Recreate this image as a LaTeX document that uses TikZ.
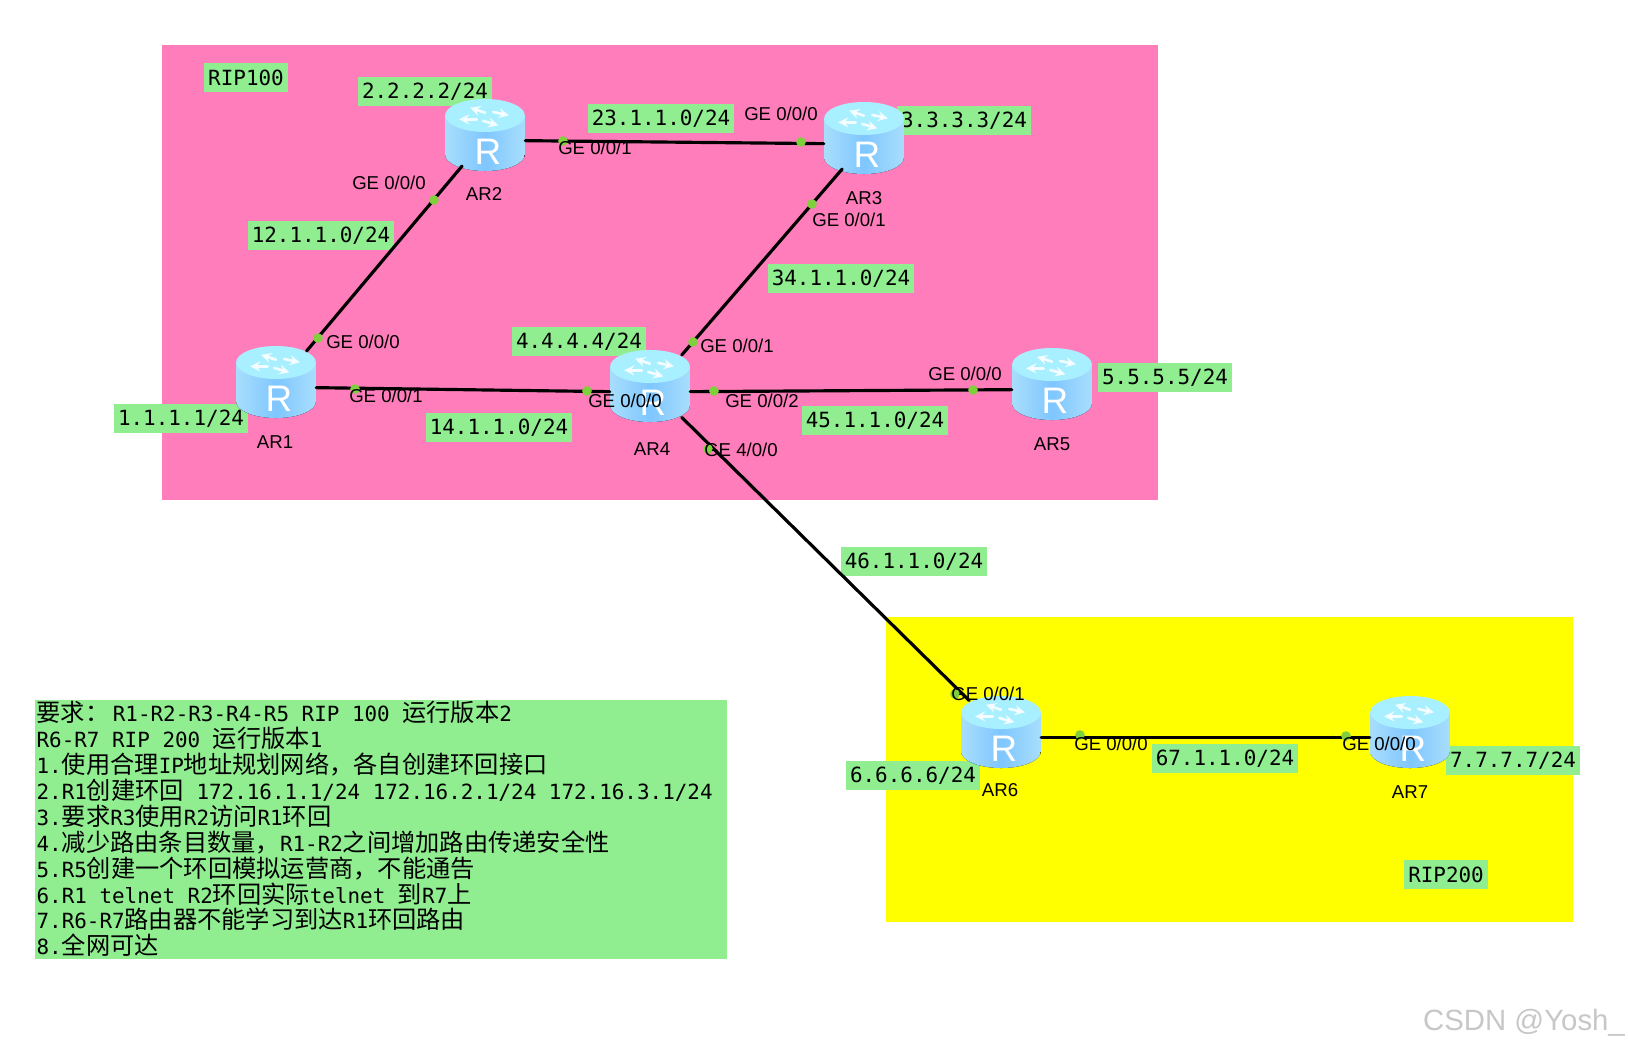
\documentclass[tikz,border=0pt]{standalone}
\usepackage{fontspec}
\setmainfont{Liberation Sans}
\setmonofont{DejaVu Sans Mono}
\newfontfamily\cjk{Noto Sans CJK SC}
\newcommand{\zh}[1]{{\cjk\fontsize{13.8}{14}\selectfont #1}}
\definecolor{ripPink}{HTML}{FF7DBB}
\definecolor{ripYellow}{HTML}{FFFF00}
\definecolor{noteGreen}{HTML}{90EE90}
\definecolor{portGreen}{HTML}{7FD03C}
\definecolor{bodyEdge}{HTML}{A8DEFC}
\definecolor{bodyMid}{HTML}{7FC6FF}
\definecolor{topFill}{HTML}{A8F0FF}
\tikzset{
 addr/.style={fill=noteGreen,font=\ttfamily\fontsize{11.9}{14}\selectfont,inner xsep=2.2pt,inner ysep=0pt,minimum height=16.8pt,yshift=-0.4pt},
 port/.style={font=\fontsize{10.6}{12}\selectfont,inner sep=0pt},
 devname/.style={font=\fontsize{10.6}{12}\selectfont,inner sep=0pt},
 portdot/.style={circle,fill=portGreen,inner sep=0pt,minimum size=5.5pt},
 link/.style={line width=1.8pt,black},
 slantlink/.style={link,shorten <=-4pt,shorten >=-4pt},
 glyph/.style={white,opacity=.85,line width=1.5pt,->,>=stealth},
 router/.style={rectangle,minimum width=45.4pt,minimum height=41pt,inner sep=0pt,
  path picture={
   \fill[left color=bodyEdge,right color=bodyEdge,middle color=bodyMid] (-22.7pt,11.1pt) -- (-22.7pt,-11.1pt)
    arc[start angle=180,end angle=360,x radius=22.7pt,y radius=9.4pt] -- (22.7pt,11.1pt) -- cycle;
   \fill[topFill] (0pt,11.1pt) ellipse (22.7pt and 9.4pt);
   \draw[glyph] (0pt,12.7pt) -- (-8.5pt,15.5pt);
   \draw[glyph] (4.7pt,13.1pt) -- (13.6pt,11.2pt);
   \draw[glyph] (-4.7pt,8.9pt) -- (-14.7pt,8.9pt);
   \draw[glyph] (-1pt,8pt) -- (7.6pt,5.5pt);
   \node[white,font=\fontsize{21}{21}\selectfont,inner sep=0pt] at (1.7pt,-9.6pt) {R};
  }},
}
\begin{document}
\begin{tikzpicture}[x=0.02cm,y=-0.02cm,line cap=round,line join=round]
 \useasboundingbox (0,0) rectangle (1628,1048);
 \fill[ripPink] (162,45) rectangle (1158,500);
 \fill[ripYellow] (886,617) rectangle (1573,922);
 \node[addr] (rip100) at (246,77) {RIP100};
 \node[addr] (rip200) at (1446,874) {RIP200};
 \node[addr] (lo2) at (425,91) {2.2.2.2/24};
 \node[addr] (lo3) at (964,120) {3.3.3.3/24};
 \node[addr] (lo4) at (579,341) {4.4.4.4/24};
 \node[addr] (lo1) at (181,418) {1.1.1.1/24};
 \node[addr] (lo5) at (1165,377) {5.5.5.5/24};
 \node[addr] (lo6) at (913,775) {6.6.6.6/24};
 \node[addr] (lo7) at (1513,760) {7.7.7.7/24};
 \node[addr] (net12) at (321,235) {12.1.1.0/24};
 \node[addr] (net23) at (661,118) {23.1.1.0/24};
 \node[addr] (net34) at (841,278) {34.1.1.0/24};
 \node[addr] (net14) at (499,427) {14.1.1.0/24};
 \node[addr] (net45) at (875,420) {45.1.1.0/24};
 \node[addr] (net46) at (914,561) {46.1.1.0/24};
 \node[addr] (net67) at (1225,758) {67.1.1.0/24};
 % routers
 \node[router] (ar1) at (276,382) {};
 \node[router] (ar2) at (485,135) {};
 \node[router] (ar3) at (864,138) {};
 \node[router] (ar4) at (650,386) {};
 \node[router] (ar5) at (1052,384) {};
 \node[router] (ar6) at (1001,732) {};
 \node[router] (ar7) at (1410,732) {};
 \node[devname] (ar1name) at (275,442) {AR1};
 \node[devname] (ar2name) at (484,194) {AR2};
 \node[devname] (ar3name) at (864,198) {AR3};
 \node[devname] (ar4name) at (652,449) {AR4};
 \node[devname] (ar5name) at (1052,444) {AR5};
 \node[devname] (ar6name) at (1000,790) {AR6};
 \node[devname] (ar7name) at (1410,792) {AR7};
 % links
 \draw[slantlink] (ar1.46) -- (ar2.233);
 \draw[link] (ar2.-8) -- (ar3.188);
 \draw[slantlink] (ar3.234) -- (ar4.45);
 \draw[link] (ar1.-8) -- (ar4.188);
 \draw[link] (ar4.-8) -- (ar5.188);
 \draw[slantlink] (ar4) -- (ar6);
 \draw[link] (ar6.-8) -- (ar7.188);
 % ports
 \node[portdot] (d1) at (434,200) {};
 \node[portdot] (d2) at (318,338) {};
 \node[portdot] (d3) at (563,141) {};
 \node[portdot] (d4) at (801,142) {};
 \node[portdot] (d5) at (812,204) {};
 \node[portdot] (d6) at (693,342) {};
 \node[portdot] (d7) at (355,389) {};
 \node[portdot] (d8) at (587,391) {};
 \node[portdot] (d9) at (714,391) {};
 \node[portdot] (d10) at (973,390) {};
 \node[portdot] (d11) at (708,449) {};
 \node[portdot] (d12) at (955,694) {};
 \node[portdot] (d13) at (1080,735) {};
 \node[portdot] (d14) at (1346,736) {};
 \node[port] (p1) at (389,183) {GE 0/0/0};
 \node[port] (p2) at (363,342) {GE 0/0/0};
 \node[port] (p3) at (595,148) {GE 0/0/1};
 \node[port] (p4) at (781,114) {GE 0/0/0};
 \node[port] (p5) at (849,220) {GE 0/0/1};
 \node[port] (p6) at (737,346) {GE 0/0/1};
 \node[port] (p7) at (386,396) {GE 0/0/1};
 \node[port] (p8) at (625,401) {GE 0/0/0};
 \node[port] (p9) at (762,401) {GE 0/0/2};
 \node[port] (p10) at (965,374) {GE 0/0/0};
 \node[port] (p11) at (741,450) {GE 4/0/0};
 \node[port] (p12) at (988,694) {GE 0/0/1};
 \node[port] (p13) at (1111,744) {GE 0/0/0};
 \node[port] (p14) at (1379,744) {GE 0/0/0};
 % notes
 \node[fill=noteGreen,minimum width=393.4pt,minimum height=147.4pt,text width=392pt,inner xsep=0.7pt,inner ysep=0pt,align=flush left,
  font=\ttfamily\fontsize{11.9}{14.74}\selectfont] (notes) at (381,829) {%
  \zh{要求：}\hspace{2pt}R1-R2-R3-R4-R5 RIP 100 \zh{运行版本}2\\
  R6-R7 RIP 200 \zh{运行版本}1\\
  1.\zh{使用合理}IP\zh{地址规划网络，各自创建环回接口}\\
  2.R1\zh{创建环回} 172.16.1.1/24 172.16.2.1/24 172.16.3.1/24\\
  3.\zh{要求}R3\zh{使用}R2\zh{访问}R1\zh{环回}\\
  4.\zh{减少路由条目数量，}R1-R2\zh{之间增加路由传递安全性}\\
  5.R5\zh{创建一个环回模拟运营商，不能通告}\\
  6.R1 telnet R2\zh{环回实际}telnet \zh{到}R7\zh{上}\\
  7.R6-R7\zh{路由器不能学习到达}R1\zh{环回路由}\\
  8.\zh{全网可达}\par\vspace{3pt}};
 \node[text=black!22,font=\fontsize{16.7}{18}\selectfont,inner sep=0pt] (mark) at (1524,1023) {CSDN @Yosh\_};
\end{tikzpicture}
\end{document}
